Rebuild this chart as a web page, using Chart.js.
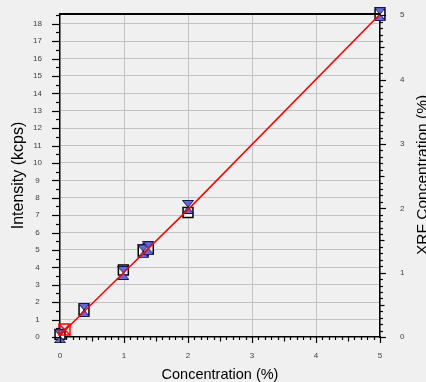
<!DOCTYPE html>
<html>
<head>
<meta charset="utf-8">
<title>Intensity vs Concentration</title>
<script src="https://cdn.jsdelivr.net/npm/chart.js@4.4.1/dist/chart.umd.min.js"></script>
<style>
  html, body { margin: 0; padding: 0; background: #f0f0f0; }
</style>
</head>
<body>
<canvas id="chart" width="426" height="382"></canvas>
<script>
// Values
const stdConc = [0, 0.375, 0.99, 1.3, 1.38, 2.0, 5.0];
const stdIntensity = [0.15, 1.55, 3.85, 4.94, 5.08, 7.15, 18.55];
const measConc = [0, 0.375, 0.99, 1.3, 1.38, 2.0, 5.0];
const measIntensity = [0.05, 1.55, 3.68, 4.92, 5.1, 7.47, 18.55];
const blankConc = [0.07];
const blankIntensity = [0.43];
const fitConc = [0, 1, 2, 5];
const fitIntensity = [0.1, 3.72, 7.32, 18.55];

const xTicks = [0, 1, 2, 3, 4, 5];
const yTicks = [0, 1, 2, 3, 4, 5, 6, 7, 8, 9, 10, 11, 12, 13, 14, 15, 16, 17, 18];
const y2Ticks = [0, 1, 2, 3, 4, 5];

const xTitle = 'Concentration (%)';
const yTitle = 'Intensity (kcps)';
const y2Title = 'XRF Concentration (%)';

const FONT = '"Liberation Sans", Arial, sans-serif';

const pts = (xs, ys) => xs.map((x, i) => ({ x, y: ys[i] }));

// hourglass marker (two blue triangles)
function makeHourglass() {
  const c = document.createElement('canvas');
  c.width = 12; c.height = 14;
  const g = c.getContext('2d');
  g.fillStyle = '#6868dc';
  g.strokeStyle = '#161650';
  g.lineWidth = 1;
  g.beginPath(); g.moveTo(0.5, 0.5); g.lineTo(11.5, 0.5); g.lineTo(6, 7); g.closePath(); g.fill(); g.stroke();
  g.beginPath(); g.moveTo(0.5, 13.5); g.lineTo(11.5, 13.5); g.lineTo(6, 7); g.closePath(); g.fill(); g.stroke();
  return c;
}

// red open square with a cross
function makeRedBox() {
  const c = document.createElement('canvas');
  c.width = 13; c.height = 13;
  const g = c.getContext('2d');
  g.strokeStyle = '#ff0000';
  g.lineWidth = 1.5;
  g.strokeRect(1, 1, 11, 11);
  g.beginPath(); g.moveTo(1, 1); g.lineTo(12, 12); g.moveTo(12, 1); g.lineTo(1, 12); g.stroke();
  return c;
}

const frame = {
  id: 'frame',
  beforeDraw(chart) {
    const ctx = chart.ctx;
    ctx.save();
    ctx.fillStyle = '#f0f0f0';
    ctx.fillRect(0, 0, chart.width, chart.height);
    ctx.restore();
  },
  afterDraw(chart) {
    const { ctx, chartArea: a, scales } = chart;
    ctx.save();
    ctx.strokeStyle = '#000';
    ctx.lineWidth = 1.2;
    // bottom axis ticks, every 0.1
    for (let i = 0; i <= 50; i++) {
      const px = Math.round(scales.x.getPixelForValue(i / 10)) + 0.5;
      const len = i % 10 === 0 ? 6 : (i % 5 === 0 ? 4.5 : 3);
      ctx.beginPath(); ctx.moveTo(px, a.bottom); ctx.lineTo(px, a.bottom + len); ctx.stroke();
    }
    // left axis ticks, every 0.5
    for (let i = 0; i <= 37; i++) {
      const py = Math.round(scales.y.getPixelForValue(i / 2)) + 0.5;
      const len = i % 2 === 0 ? 8 : 4;
      ctx.beginPath(); ctx.moveTo(a.left - len, py); ctx.lineTo(a.left, py); ctx.stroke();
    }
    // right axis ticks, every 0.1
    for (let i = 0; i <= 50; i++) {
      const py = Math.round(scales.y2.getPixelForValue(i / 10)) + 0.5;
      const len = i % 10 === 0 ? 6 : (i % 5 === 0 ? 4.5 : 3);
      ctx.beginPath(); ctx.moveTo(a.right, py); ctx.lineTo(a.right + len, py); ctx.stroke();
    }
    // top frame line
    ctx.lineWidth = 2;
    ctx.beginPath(); ctx.moveTo(a.left, a.top); ctx.lineTo(a.right, a.top); ctx.stroke();
    // right title reads bottom to top
    ctx.fillStyle = '#000';
    ctx.font = '15.5px ' + FONT;
    ctx.textAlign = 'center';
    ctx.textBaseline = 'middle';
    ctx.translate(423, 175);
    ctx.rotate(-Math.PI / 2);
    ctx.fillText(y2Title, 0, 0);
    ctx.restore();
  }
};

const gridColor = (ctx) => (ctx.tick && (ctx.tick.value === 0) ? 'rgba(0,0,0,0)' : '#c4c4c4');
const noPadY = (s, w) => { s.width = w; s.paddingTop = 0; s.paddingBottom = 0; };

new Chart(document.getElementById('chart'), {
  type: 'scatter',
  data: {
    datasets: [
      { label: 'fit', data: pts(fitConc, fitIntensity), showLine: true, borderColor: '#ff0000', borderWidth: 1.5,
        pointRadius: 0, tension: 0, order: 0 },
      { label: 'blank', data: pts(blankConc, blankIntensity), pointStyle: makeRedBox(), pointRadius: 6, clip: false, order: 1 },
      { label: 'measured', data: pts(measConc, measIntensity), pointStyle: makeHourglass(), pointRadius: 6, clip: false, order: 2 },
      { label: 'standard', data: pts(stdConc, stdIntensity), pointStyle: 'rect', pointRadius: 7,
        backgroundColor: '#ffffff', borderColor: '#000000', borderWidth: 1.5, clip: false, order: 3 }
    ]
  },
  options: {
    responsive: false,
    animation: false,
    layout: { padding: { top: 14, left: 0, right: 0, bottom: 0 } },
    plugins: { legend: { display: false }, tooltip: { enabled: false } },
    scales: {
      x: {
        type: 'linear', min: 0, max: 5,
        afterBuildTicks: (s) => { s.ticks = xTicks.map(v => ({ value: v })); },
        afterFit: (s) => { s.height = 45; s.paddingLeft = 0; s.paddingRight = 0; },
        grid: { color: gridColor, borderDash: [3, 2], drawTicks: false, lineWidth: 1 },
        border: { display: true, color: '#000', width: 1.5 },
        ticks: { padding: 14, color: '#404040', font: { family: FONT, size: 8 } },
        title: { display: true, text: xTitle, color: '#000', padding: { top: 0, bottom: 0 },
          font: { family: FONT, size: 14.5, lineHeight: 1 } }
      },
      y: {
        type: 'linear', position: 'left', min: 0, max: 18.56,
        afterBuildTicks: (s) => { s.ticks = yTicks.map(v => ({ value: v })); },
        afterFit: (s) => noPadY(s, 60),
        grid: { color: gridColor, borderDash: [3, 2], drawTicks: false, lineWidth: 1 },
        border: { display: true, color: '#000', width: 1.5 },
        ticks: { padding: 18, crossAlign: 'center', color: '#404040', font: { family: FONT, size: 8 } },
        title: { display: true, text: yTitle, color: '#000', padding: { top: 11, bottom: 0 },
          font: { family: FONT, size: 16, lineHeight: 1 } }
      },
      y2: {
        type: 'linear', position: 'right', min: 0, max: 5.02,
        afterBuildTicks: (s) => { s.ticks = y2Ticks.map(v => ({ value: v })); },
        afterFit: (s) => noPadY(s, 46),
        grid: { drawOnChartArea: false, drawTicks: false },
        border: { display: true, color: '#000', width: 1.5 },
        ticks: { padding: 20, color: '#404040', font: { family: FONT, size: 8 } }
      }
    }
  },
  plugins: [frame]
});
</script>
</body>
</html>
